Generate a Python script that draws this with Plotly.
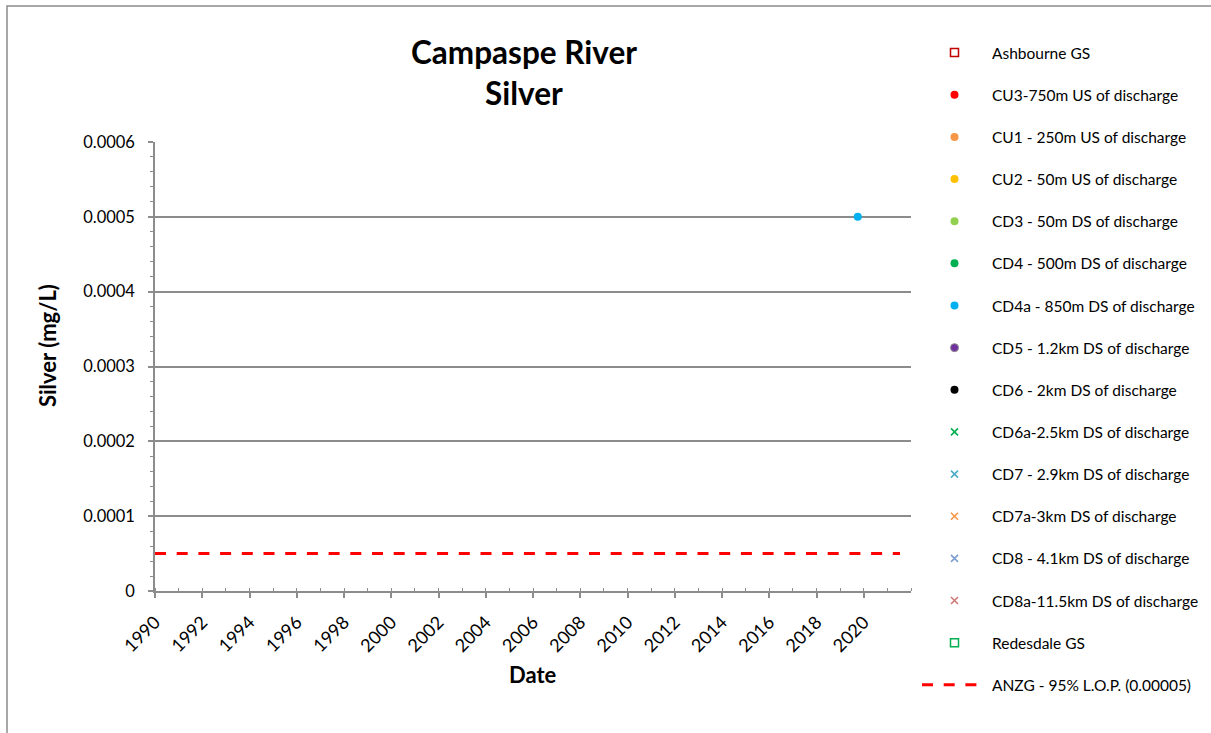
import plotly.graph_objects as go

# ---- data ----
series_names = [
    "Ashbourne GS",
    "CU3-750m US of discharge",
    "CU1 - 250m US of discharge",
    "CU2 - 50m US of discharge",
    "CD3 - 50m DS of discharge",
    "CD4 - 500m DS of discharge",
    "CD4a - 850m DS of discharge",
    "CD5 - 1.2km DS of discharge",
    "CD6 - 2km DS of discharge",
    "CD6a-2.5km DS of discharge",
    "CD7 - 2.9km DS of discharge",
    "CD7a-3km DS of discharge",
    "CD8 - 4.1km DS of discharge",
    "CD8a-11.5km DS of discharge",
    "Redesdale GS",
]
series_symbols = ["square-open", "circle", "circle", "circle", "circle", "circle", "circle",
                  "circle", "circle", "x-thin", "x-thin", "x-thin", "x-thin", "x-thin", "square-open"]
series_colors = ["#C00000", "#FF0000", "#F79646", "#FFC000", "#92D050", "#00B050", "#00B0F0",
                 "#7030A0", "#000000", "#00B050", "#4BACC6", "#F79646", "#7F9FD0", "#D07A78", "#00B050"]

# observed values (only CD4a has a reading)
series_dates = {"CD4a - 850m DS of discharge": ["2019-10-01"]}
series_values = {"CD4a - 850m DS of discharge": [0.0005]}

guideline_name = "ANZG - 95% L.O.P. (0.00005)"
guideline_dates = ["1990-01-01", "2021-07-15"]
guideline_values = [0.00005, 0.00005]

year_ticks = list(range(1990, 2021, 2))

title_lines = ["Campaspe River", "Silver"]
x_title = "Date"
y_title = "Silver (mg/L)"

FONT = "Lato"
GRAY = "#8C8C8C"
W, H = 1211, 733

# plot-area geometry (pixels)
L, R, T, B = 155, 911, 142, 591
PW, PH = R - L, B - T


def px(xp):
    return (xp - L) / PW


def py(yp):
    return (B - yp) / PH


fig = go.Figure()
for i, (name, sym, col) in enumerate(zip(series_names, series_symbols, series_colors)):
    xs = series_dates.get(name, [None])
    ys = series_values.get(name, [None])
    if sym == "x-thin":
        marker = dict(symbol=sym, size=7, line=dict(color=col, width=1.6), color=col)
    elif sym == "square-open":
        marker = dict(symbol=sym, size=8, color=col, line=dict(color=col, width=1.5))
    elif name.startswith("CD5"):
        marker = dict(symbol=sym, size=8, color=col, line=dict(color="#8C8C8C", width=1))
    else:
        marker = dict(symbol=sym, size=8, color=col)
    fig.add_trace(go.Scatter(x=xs, y=ys, mode="markers", name=name, marker=marker,
                             legendgroup="g%d" % i, showlegend=True))

fig.add_trace(go.Scatter(x=guideline_dates, y=guideline_values, mode="lines", name=guideline_name,
                         line=dict(color="#FF0000", width=3, dash="11px,10.7px"),
                         legendgroup="g_line"))

fig.update_layout(
    width=W, height=H,
    margin=dict(l=L, r=W - R, t=T, b=H - B, autoexpand=False),
    paper_bgcolor="white", plot_bgcolor="white",
    font=dict(family=FONT, color="#000000"),
    showlegend=True,
    legend=dict(xref="container", yref="container",
                x=917 / W, xanchor="left", y=1 - 36 / H, yanchor="top",
                font=dict(family=FONT, size=15.5, color="#000000"),
                itemwidth=65, tracegroupgap=19, bgcolor="rgba(0,0,0,0)",
                traceorder="grouped", maxheight=720),
    xaxis=dict(
        type="date",
        range=["1990-01-01", "2022-01-01"],
        tickvals=["%d-01-01" % y for y in year_ticks],
        ticktext=[str(y) for y in year_ticks],
        tickangle=-45,
        ticklabelstandoff=7,
        tickfont=dict(family=FONT, size=18, color="#000000"),
        showgrid=False, zeroline=False,
        showline=True, linecolor=GRAY, linewidth=1.5,
        ticks="outside", ticklen=5, tickcolor=GRAY, tickwidth=1.5,
        minor=dict(dtick="M12", ticks="inside", ticklen=3, tickcolor=GRAY, tickwidth=1.2, showgrid=False),
    ),
    yaxis=dict(
        range=[0, 0.0006],
        dtick=0.0001,
        tickformat=".4~f",
        ticklabelstandoff=10,
        tickfont=dict(family=FONT, size=16.5, color="#000000"),
        showgrid=True, gridcolor=GRAY, gridwidth=1.5,
        zeroline=False,
        showline=True, linecolor=GRAY, linewidth=1.5,
        ticks="outside", ticklen=5, tickcolor=GRAY, tickwidth=1.5,
        minor=dict(dtick=0.00002, ticks="outside", ticklen=3, tickcolor=GRAY, tickwidth=1.2, showgrid=False),
    ),
    annotations=[
        dict(text="<b>%s</b>" % title_lines[0], xref="paper", yref="paper",
             x=px(524), y=py(52), xanchor="center", yanchor="middle",
             showarrow=False, font=dict(family=FONT, size=31.5, color="#000000")),
        dict(text="<b>%s</b>" % title_lines[1], xref="paper", yref="paper",
             x=px(524), y=py(93), xanchor="center", yanchor="middle",
             showarrow=False, font=dict(family=FONT, size=31.5, color="#000000")),
        dict(text="<b>%s</b>" % x_title, xref="paper", yref="paper",
             x=px(533), y=py(674), xanchor="center", yanchor="middle",
             showarrow=False, font=dict(family=FONT, size=22, color="#000000")),
        dict(text="<b>%s</b>" % y_title, xref="paper", yref="paper", textangle=-90,
             x=px(47), y=py(346), xanchor="center", yanchor="middle",
             showarrow=False, font=dict(family=FONT, size=22, color="#000000")),
    ],
    shapes=[
        dict(type="rect", xref="paper", yref="paper",
             x0=px(7), x1=px(1230),
             y0=py(760), y1=py(6),
             line=dict(color=GRAY, width=1.5), fillcolor="rgba(0,0,0,0)", layer="below"),
    ],
)

fig.write_html("out.html", config={"displayModeBar": False},
               post_script="document.body.style.margin='0';document.body.style.overflow='hidden';")
